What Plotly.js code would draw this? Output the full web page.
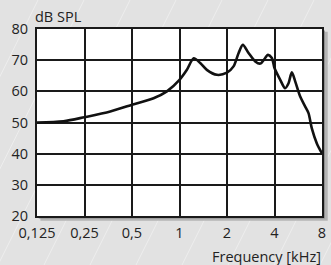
<!DOCTYPE html>
<html>
<head>
<meta charset="utf-8">
<script src="https://cdn.plot.ly/plotly-3.0.1.min.js"></script>
<style>
html,body{margin:0;padding:0;background:#e2e2e2;}
#chart{width:331px;height:265px;}
</style>
</head>
<body>
<div id="chart"></div>
<script>
const freqKHz = [0.125, 0.184, 0.25, 0.364, 0.5, 0.685, 0.832, 1.0, 1.114, 1.23, 1.353, 1.49, 1.725, 2.0, 2.2, 2.37, 2.52, 2.74, 3.02, 3.25, 3.49, 3.63, 3.85, 4.0, 4.35, 4.67, 4.91, 5.15, 5.41, 5.81, 6.26, 6.57, 6.89, 7.42, 8.0];
const splDb = [50.0, 50.4, 51.7, 53.5, 55.7, 57.8, 60.0, 63.7, 66.9, 70.6, 69.1, 66.9, 65.3, 66.0, 68.0, 72.3, 74.9, 72.3, 69.6, 68.9, 70.7, 71.7, 70.7, 67.5, 63.7, 61.0, 62.6, 66.1, 63.2, 58.4, 55.1, 53.0, 48.2, 43.3, 40.1];
const xTickVals = [0.125, 0.25, 0.5, 1, 2, 4, 8];
const xTickText = ['0,125', '0,25', '0,5', '1', '2', '4', '8'];
const yTickVals = [20, 30, 40, 50, 60, 70, 80];
const yTickText = ['20', '30', '40', '50', '60', '70', '80'];
const xTitle = 'Frequency [kHz]';
const yTitle = 'dB SPL';

const font = {family: 'Open Sans, DejaVu Sans, sans-serif', size: 14.5, color: '#222'};

const trace = {
  x: freqKHz, y: splDb, type: 'scatter', mode: 'lines',
  line: {color: '#111', width: 2.6, shape: 'spline', smoothing: 0.8},
  hoverinfo: 'skip'
};

// decorative faint diagonal background stripes (pixel -> paper fractions)
const PL = 37, PR = 322, PT = 29, PB = 216;
const pw = PR - PL, ph = PB - PT;
const stripes = [];
for (let x0 = -140; x0 < 340; x0 += 46) {
  stripes.push({type: 'line', xref: 'paper', yref: 'paper',
    x0: (x0 - PL) / pw, y0: (PB - 265) / ph,
    x1: (x0 + 132 - PL) / pw, y1: (PB - 0) / ph,
    line: {color: 'rgba(255,255,255,0.4)', width: 1}, layer: 'below'});
}

const layout = {
  width: 331, height: 265,
  margin: {l: PL, r: 331 - PR, t: PT, b: 265 - PB, pad: 0},
  paper_bgcolor: '#e2e2e2',
  plot_bgcolor: 'rgba(0,0,0,0)',
  showlegend: false,
  font: font,
  xaxis: {
    type: 'log',
    range: [Math.log10(0.125), Math.log10(8)],
    tickvals: xTickVals, ticktext: xTickText,
    showgrid: true, gridcolor: '#1a1a1a', gridwidth: 2,
    showline: true, linecolor: '#1a1a1a', linewidth: 2, mirror: true,
    ticks: '', ticklabelstandoff: 3,
    tickfont: font, zeroline: false, fixedrange: true
  },
  yaxis: {
    range: [20, 80],
    tickvals: yTickVals, ticktext: yTickText,
    showgrid: true, gridcolor: '#1a1a1a', gridwidth: 2,
    showline: true, linecolor: '#1a1a1a', linewidth: 2, mirror: true,
    ticks: '', ticklabelstandoff: 4,
    tickfont: font, zeroline: false, fixedrange: true
  },
  shapes: stripes.concat([
    {type: 'rect', xref: 'paper', yref: 'paper', x0: 0.012, x1: 1.02, y0: -0.025, y1: 0.985,
     fillcolor: '#b4b4b4', line: {width: 0}, layer: 'below'},
    {type: 'rect', xref: 'paper', yref: 'paper', x0: 0.006, x1: 1.01, y0: -0.013, y1: 0.992,
     fillcolor: '#8a8a8a', line: {width: 0}, layer: 'below'},
    {type: 'rect', xref: 'paper', yref: 'paper', x0: 0, x1: 1, y0: 0, y1: 1,
     fillcolor: '#ffffff', line: {width: 0}, layer: 'below'}
  ]),
  annotations: [
    {text: xTitle, xref: 'paper', yref: 'paper', x: 1.005, y: 0, xanchor: 'right', yanchor: 'top',
     yshift: -29, showarrow: false, font: font},
    {text: yTitle, xref: 'paper', yref: 'paper', x: 0, y: 1, xanchor: 'left', yanchor: 'bottom',
     xshift: -4, yshift: 1, showarrow: false, font: font}
  ]
};

Plotly.newPlot('chart', [trace], layout, {displayModeBar: false, staticPlot: true});
</script>
</body>
</html>
